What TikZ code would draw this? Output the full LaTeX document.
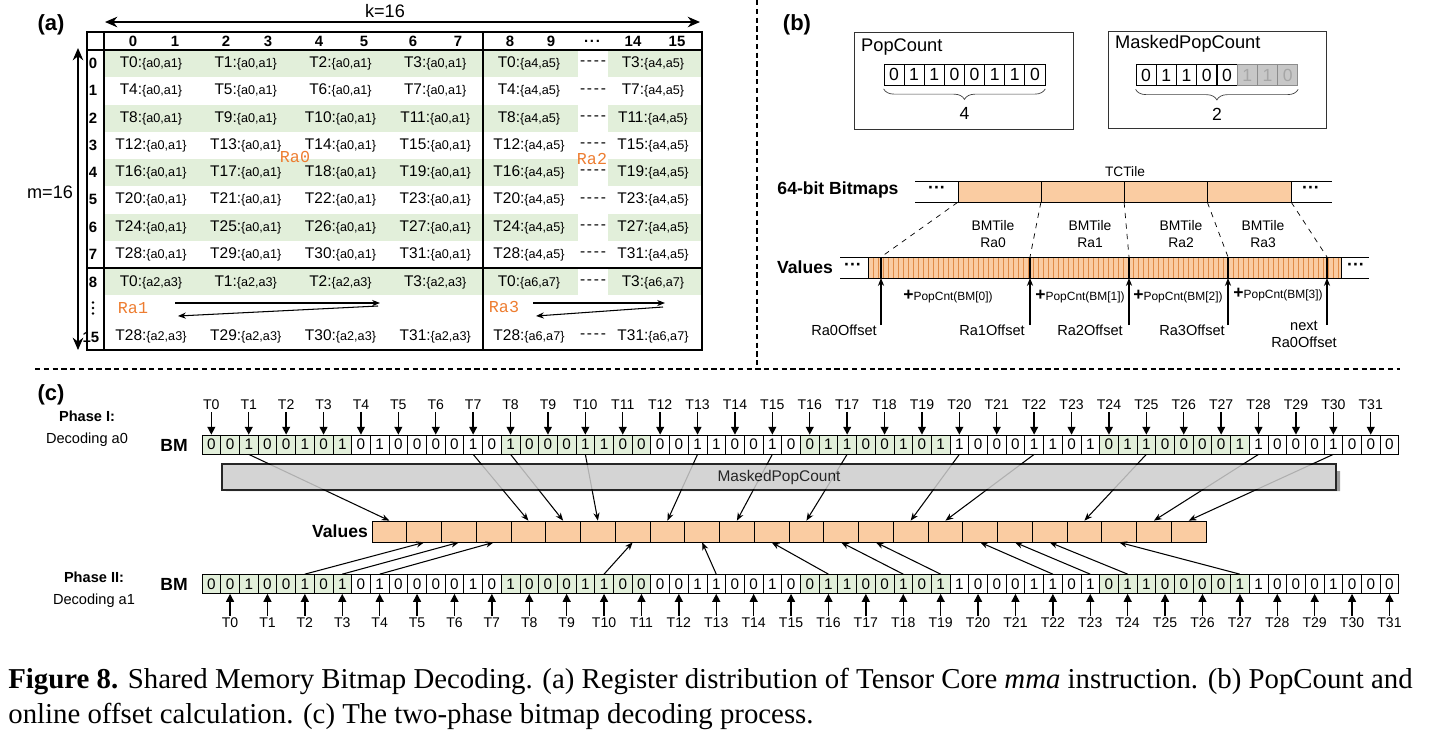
\documentclass[tikz,border=0pt]{standalone}
\usepackage{fontspec}
\setmainfont{Liberation Serif}
\setsansfont{Liberation Sans}
\setmonofont{Liberation Mono}
\renewcommand{\familydefault}{\sfdefault}
\usetikzlibrary{arrows.meta,positioning,calc,decorations.pathreplacing}
\definecolor{grn}{RGB}{226,239,218}
\definecolor{org}{RGB}{250,204,162}
\definecolor{orgln}{RGB}{224,140,72}
\definecolor{lbl}{RGB}{237,125,49}
\definecolor{barg}{RGB}{205,205,205}
\newcommand{\fsz}[1]{\fontsize{#1pt}{#1pt}\selectfont}
\newcommand{\treg}[2]{#1:{\fsz{7.2}\{#2\}}}
\newcommand{\hdots}{.\kern1pt.\kern1pt.}
\newcommand{\bitlist}{0,0,1,0,0,1,0,1,0,1,0,0,0,0,1,0,1,0,0,0,1,1,0,0,0,0,1,1,0,0,1,0,0,1,1,0,0,1,0,1,1,0,0,0,1,1,0,1,0,1,1,0,0,0,0,1,1,0,0,0,1,0,0,0}

\begin{document}
\begin{tikzpicture}[x=0.02cm, y=-0.02cm, font=\fsz{8.8},
  panel/.style={font=\bfseries\fsz{12.5}},
  hdr/.style={font=\bfseries\fsz{8.5}},
  ralbl/.style={font=\ttfamily\fsz{9.5}, text=lbl, inner sep=0pt},
  dsh/.style={inner sep=0pt},
  bitb/.style={draw, minimum width=0.402cm, minimum height=0.42cm, inner sep=0pt, font=\fsz{10}},
  tile/.style={draw, fill=org, minimum width=1.665cm, minimum height=0.42cm, inner sep=0pt},
  bmcell/.style={draw, minimum width=0.374cm, minimum height=0.38cm, inner sep=0pt, font=\fsz{8.7}},
  valcell/.style={draw, fill=org, minimum width=0.695cm, minimum height=0.42cm, inner sep=0pt},
  tlbl/.style={font=\fsz{8}, inner sep=1pt},
  darr/.style={-{Triangle[width=4.5pt,length=4.5pt]}, line width=0.8pt},
  sarr/.style={-{Stealth[length=4.5pt,width=3.5pt]}, line width=0.6pt},
  bigarr/.style={{Stealth[length=7pt,width=6pt]}-{Stealth[length=7pt,width=6pt]}, line width=0.9pt},
  sep/.style={dash pattern=on 3pt off 2pt, line width=0.6pt}]
\useasboundingbox (0,0) rectangle (1437,731);

\node[panel] (lba) at (51,25) {(a)};
\foreach \r in {0,2,4,6,8} {
  \fill[grn] (104,50+27.25*\r) rectangle (578,77.25+27.25*\r);
  \fill[grn] (608,50+27.25*\r) rectangle (702,77.25+27.25*\r);
}
\foreach \n/\x [count=\k] in {0/133,1/175,2/226,3/268,4/319,5/364,6/413,7/458,8/510,9/551,\hdots/592,14/633,15/677}
  \node[hdr] (hd\k) at (\x,41) {\n};
\foreach \r in {0,...,7} {
  \node[hdr] (rw\r) at (93,63.6+27.25*\r) {\r};
  \foreach \c [evaluate=\c as \t using {int(4*\r+\c)}] in {0,...,3}
    \node (reg-\r-\c) at (151+94.75*\c,63.6+27.25*\r) {\treg{T\t}{a0,a1}};
  \pgfmathtruncatemacro\tf{4*\r}
  \pgfmathtruncatemacro\tl{4*\r+3}
  \node (rgr-\r-0) at (529,63.6+27.25*\r) {\treg{T\tf}{a4,a5}};
  \node[dsh] (dsh-\r) at (593,63.6+27.25*\r) {-\kern1pt-\kern1pt-\kern1pt-};
  \node (rgr-\r-3) at (653,63.6+27.25*\r) {\treg{T\tl}{a4,a5}};
}
\node[hdr] (rw8) at (93,282) {8};
\foreach \yy in {302.5,308,313.5} \fill (93,\yy) circle (1.4);
\node[hdr] (rw15) at (91,337) {15};
\foreach \c/\ua/\ub in {0/0/28,1/1/29,2/2/30,3/3/31} {
  \node (reg-8-\c) at (151+94.75*\c,282) {\treg{T\ua}{a2,a3}};
  \node (reg-15-\c) at (151+94.75*\c,336.5) {\treg{T\ub}{a2,a3}};
}
\node (rgr-8-0) at (529,282) {\treg{T0}{a6,a7}};
\node[dsh] (dsh-8) at (593,282) {-\kern1pt-\kern1pt-\kern1pt-};
\node (rgr-8-3) at (653,282) {\treg{T3}{a6,a7}};
\node (rgr-15-0) at (529,336.5) {\treg{T28}{a6,a7}};
\node[dsh] (dsh-15) at (593,336.5) {-\kern1pt-\kern1pt-\kern1pt-};
\node (rgr-15-3) at (653,336.5) {\treg{T31}{a6,a7}};
\draw[line width=1.1pt] (87,32) rectangle (702,350);
\draw[line width=0.9pt] (87,50) -- (702,50) (104,32) -- (104,350) (483,32) -- (483,350) (87,268) -- (702,268);
\node[ralbl] (ra0) at (295,157) {Ra0};
\node[ralbl] (ra2) at (592,158.5) {Ra2};
\node[ralbl] (ra1) at (133,308) {Ra1};
\node[ralbl] (ra3) at (504,307) {Ra3};
\coordinate (p1) at (175,303); \coordinate (p2) at (380,303);
\coordinate (p3) at (378,306); \coordinate (p4) at (178,316);
\coordinate (q1) at (533,303); \coordinate (q2) at (665,303);
\coordinate (q3) at (663,307); \coordinate (q4) at (536,316);
\draw[sarr] (p1) -- (p2); \draw[sarr] (p3) -- (p4);
\draw[sarr] (q1) -- (q2); \draw[sarr] (q3) -- (q4);
\coordinate (kl) at (105,22); \coordinate (kr) at (700,22);
\draw[bigarr] (kl) -- (kr);
\node[font=\fsz{10.3}] (klbl) at (385,11) {k=16};
\coordinate (mt) at (78,48); \coordinate (mb) at (78,350);
\draw[bigarr] (mt) -- (mb);
\node[font=\fsz{10.3}] (mlbl) at (50,192) {m=16};

\node[panel] (lbb) at (797,25) {(b)};
\draw[black!80] (854,32) rectangle (1073,129);
\draw[black!80] (1108,31) rectangle (1326,128);
\node[anchor=west, font=\fsz{10.4}] (pcl) at (855,47) {PopCount};
\node[anchor=west, font=\fsz{10.4}] (mpcl) at (1109,44) {MaskedPopCount};
\foreach \b [count=\i from 0] in {0,1,1,0,0,1,1,0}
  \node[bitb] (bits\i) at (894+20.125*\i,74.5) {\b};
\foreach \b [count=\i from 0] in {0,1,1,0,0}
  \node[bitb] (mbits\i) at (1146+20.25*\i,75) {\b};
\foreach \b [count=\i from 5] in {1,1,0}
  \node[bitb, fill=black!22, draw=black!45, text=black!35] (mbits\i) at (1146+20.25*\i,75) {\b};
\draw[decorate, decoration={brace, mirror, amplitude=6pt}, black!75] ([yshift=-2pt]bits0.south west) -- ([yshift=-2pt]bits7.south east) node[midway, below=7pt, font=\fsz{10}, text=black] (pcn) {4};
\draw[decorate, decoration={brace, mirror, amplitude=6pt}, black!75] ([yshift=-2pt]mbits0.south west) -- ([yshift=-2pt]mbits7.south east) node[midway, below=7pt, font=\fsz{10}, text=black] (mpcn) {2};
\node[font=\bfseries\fsz{10}] (bml) at (838,190) {64-bit Bitmaps};
\draw (915,181) -- (1332,181) (915,202) -- (1332,202);
\foreach \i in {0,...,3} \node[tile] (tcb\i) at (999.6+83.25*\i,191.5) {};
\node[font=\bfseries\fsz{10}] (ld1) at (937,190) {···};
\node[font=\bfseries\fsz{10}] (rd1) at (1311,190) {···};
\node[font=\fsz{7.8}] (tct) at (1125,172) {TCTile};
\node[font=\bfseries\fsz{10}] (vl) at (805,267) {Values};
\node[font=\bfseries\fsz{10}] (ld2) at (853,267) {···};
\fill[org] (868,257) rectangle (1341,278);
\foreach \x in {873,878,...,1338} \draw[orgln, line width=0.4pt] (\x,257) -- (\x,278);
\draw (868,257) -- (868,278) (1341,257) -- (1341,278);
\draw (840,257) -- (1369,257) (840,278) -- (1369,278);
\node[font=\bfseries\fsz{10}] (rd2) at (1356,267) {···};
\foreach \x [count=\i from 0] in {881,1030,1129,1228,1327} {
  \coordinate (vt\i) at (\x,257); \coordinate (vb\i) at (\x,278); \coordinate (va\i) at (\x,325);
  \draw[line width=0.9pt] (vt\i) -- (vb\i);
  \draw[sarr] (va\i) -- (vb\i);
}
\draw[dashed] (tcb0.south west) -- (vt0) (tcb1.south west) -- (vt1) (tcb2.south west) -- (vt2) (tcb3.south west) -- (vt3) (tcb3.south east) -- (vt4);
\foreach \x/\n [count=\i from 0] in {993/0,1090/1,1181/2,1263/3}
  \node[align=center, font=\fontsize{7.9pt}{9.6pt}\selectfont] (bmt\i) at (\x,234) {BMTile\\Ra\n};
\foreach \x/\n [count=\i from 0] in {844/0,992/1,1090/2,1192/3}
  \node[font=\fsz{8.3}] (off\i) at (\x,330) {Ra\n Offset};
\node[align=center, font=\fontsize{8.3pt}{9.8pt}\selectfont] (off4) at (1304,334) {next\\Ra0Offset};
\foreach \x/\y/\n [count=\i from 0] in {948/297/0,1080/297/1,1178/297/2,1278/295/3}
  \node[font=\fsz{6.8}, inner sep=1pt] (pcnt\i) at (\x,\y) {{\fsz{10}\bfseries+}PopCnt(BM[\n])};

\node[panel] (lbc) at (51,395) {(c)};
\node[align=center, font=\fontsize{8.3pt}{12.5pt}\selectfont] (ph1) at (87,429) {\textbf{Phase I:}\\Decoding a0};
\node[align=center, font=\fontsize{8.3pt}{12.5pt}\selectfont] (ph2) at (94,590) {\textbf{Phase II:}\\Decoding a1};
\node[font=\bfseries\fsz{10}] (bml1) at (174,445) {BM};
\node[font=\bfseries\fsz{10}] (bml2) at (174,584) {BM};
\foreach \b [count=\i from 0] in \bitlist {
  \pgfmathtruncatemacro\g{mod(\i,16)<8}
  \ifnum\g=1 \def\cf{grn}\else\def\cf{white}\fi
  \node[bmcell, fill=\cf] (bma\i) at (211.35+18.7*\i,444.5) {\b};
  \node[bmcell, fill=\cf] (bmb\i) at (211.35+18.7*\i,584) {\b};
}
\foreach \t in {0,...,31} {
  \pgfmathtruncatemacro\ca{2*\t}
  \pgfmathtruncatemacro\cb{2*\t+1}
  \node[tlbl] (tup\t) at (211.35+37.4*\t,405) {T\t};
  \node[tlbl] (tlo\t) at (230.05+37.4*\t,623) {T\t};
  \draw[darr] (tup\t) -- (bma\ca);
  \draw[darr] (tlo\t) -- (bmb\cb);
}
\node[font=\bfseries\fsz{10}] (vlc) at (340,531) {Values};
\foreach \j in {0,...,23} \node[valcell] (val\j) at (389.4+34.75*\j,531.5) {};
\foreach \c/\v in {2/0,14/4,16/5,20/6,26/8,30/10,34/12,40/15,44/16,50/20,56/22,60/23}
  \draw[sarr] (bma\c.south) -- (val\v.north);
\foreach \c/\v in {5/1,7/2,9/3,21/7,27/9,33/11,37/13,39/14,45/17,47/18,49/19,55/21}
  \draw[sarr] (bmb\c.north) -- (val\v.south);
\begin{scope}[transparency group, opacity=0.85]
\fill[black!45] (226,471) rectangle (1340,491);
\node[draw, fill=barg, minimum width=22.28cm, minimum height=0.4cm, font=\fsz{8.8}] (mpc) at (779,477) {MaskedPopCount};
\end{scope}

\draw[sep] (757,0) -- (757,365);
\draw[sep] (35,369) -- (1400,369);
\node[anchor=base west, font=\rmfamily\fsz{16.4}, inner sep=0pt] (cap1) at (8,688) {\textbf{Figure 8.} Shared Memory Bitmap Decoding. (a) Register distribution of Tensor Core \emph{mma} instruction. (b) PopCount and};
\node[anchor=base west, font=\rmfamily\fsz{16.4}, inner sep=0pt] (cap2) at (8,723) {online offset calculation. (c) The two-phase bitmap decoding process.};
\end{tikzpicture}
\end{document}
